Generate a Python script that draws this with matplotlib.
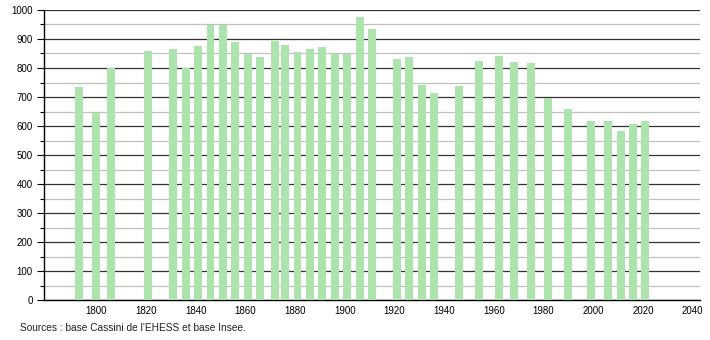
import matplotlib.pyplot as plt
from matplotlib.ticker import MultipleLocator

years = [1793, 1800, 1806, 1821, 1831, 1836, 1841, 1846, 1851, 1856,
         1861, 1866, 1872, 1876, 1881, 1886, 1891, 1896, 1901, 1906,
         1911, 1921, 1926, 1931, 1936, 1946, 1954, 1962, 1968, 1975,
         1982, 1990, 1999, 2006, 2011, 2016, 2021]
population = [735, 645, 800, 860, 866, 800, 876, 947, 947, 889,
              847, 839, 892, 878, 854, 866, 871, 847, 847, 975,
              933, 830, 839, 740, 713, 737, 824, 841, 821, 816,
              695, 657, 617, 617, 582, 607, 617]
source = "Sources : base Cassini de l'EHESS et base Insee."

plt.rcParams['font.family'] = ['Liberation Sans', 'DejaVu Sans']

fig = plt.figure(figsize=(7.1, 3.4), dpi=100)
ax = fig.add_axes([0.062, 0.1176, 0.924, 0.853])

ax.bar(years, population, width=3.2, color='#ade4ad', zorder=3)

ax.set_xlim(1779, 2043)
ax.set_ylim(0, 1000)
ax.yaxis.set_major_locator(MultipleLocator(100))
ax.yaxis.set_minor_locator(MultipleLocator(50))
ax.set_xticks(range(1800, 2041, 20))

ax.grid(axis='y', which='major', color='#333333', linewidth=0.9, zorder=1)
ax.grid(axis='y', which='minor', color='#c0c0c0', linewidth=0.9, zorder=1)

for s in ['top', 'right']:
    ax.spines[s].set_visible(False)
ax.spines['left'].set_linewidth(1)
ax.spines['bottom'].set_linewidth(1)

ax.tick_params(axis='y', which='major', length=5, width=0.8, labelsize=7, pad=3)
ax.tick_params(axis='y', which='minor', length=3, width=0.8)
ax.tick_params(axis='x', which='major', length=0, labelsize=7, pad=4)

fig.text(0.028, 0.035, source, fontsize=7.3, ha='left', va='center', color='#222222')

fig.savefig('out.png', dpi=100)
